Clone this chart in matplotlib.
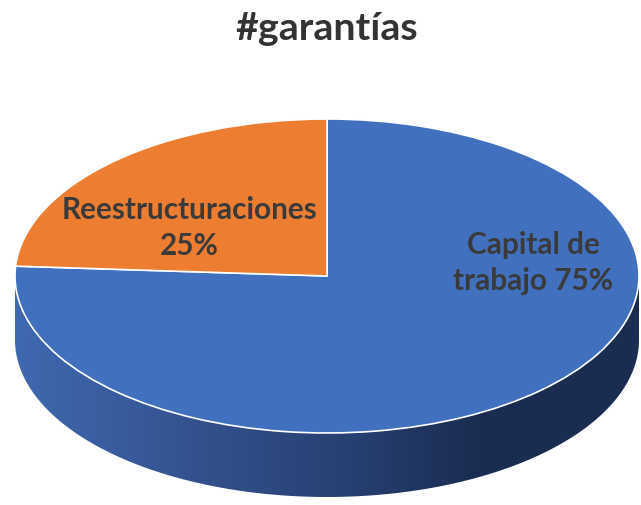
import numpy as np
import matplotlib
matplotlib.use("Agg")
import matplotlib.pyplot as plt
from matplotlib.colors import LinearSegmentedColormap
from matplotlib.patches import PathPatch
from matplotlib.path import Path

plt.rcParams['font.family'] = ['Lato', 'DejaVu Sans']

title = "#garantías"
labels = ["Capital de\ntrabajo 75%", "Reestructuraciones\n25%"]
values = [75, 25]
colors = ["#4170BF", "#ED7D31"]
side_stops = [(0, "#3F69B0"), (0.28, "#34528F"), (0.55, "#263F70"), (0.75, "#1A2C50"), (1, "#1A2C50")]

W, H = 641, 505
cx, cy = 327, 276
rx, ry = 312, 157
depth = 64 / ry

fig = plt.figure(figsize=(W / 100, H / 100), dpi=100)
ax = fig.add_axes([0, 0, 1, 1])

wedges, _ = ax.pie(values, colors=colors, startangle=90, counterclock=False,
                   radius=1, wedgeprops=dict(edgecolor="white", linewidth=1.2, zorder=3))
# la perspectiva inclina un poco el borde izquierdo
wedges[0].set_theta1(-183.6)
wedges[1].set_theta2(176.4)

ax.axis("off")

# costado del cilindro
t = np.linspace(np.pi, 2 * np.pi, 200)
xs = np.concatenate([np.cos(t), np.cos(t[::-1])])
ys = np.concatenate([np.sin(t) - depth, np.sin(t[::-1])])
side = PathPatch(Path(np.column_stack([xs, ys])), facecolor="none", edgecolor="none")
ax.add_patch(side)
cmap = LinearSegmentedColormap.from_list("lado", side_stops)
img = ax.imshow(np.linspace(0, 1, 256)[None, :], extent=(-1, 1, -1.5, 0.2), cmap=cmap,
                aspect="auto", zorder=1)
img.set_clip_path(side)
ax.set_aspect("auto")
ax.set_xlim(-cx / rx, (W - cx) / rx)
ax.set_ylim((cy - H) / ry, cy / ry)


def px(x, y):
    return (x - cx) / rx, (cy - y) / ry


ax.text(*px(327, 29), title, ha="center", va="center", fontsize=28.4, fontweight="bold",
        color="#333333", zorder=5)
ax.text(*px(533, 263), labels[0], ha="center", va="center", fontsize=21.4, fontweight="bold",
        color="#3A3A3A", linespacing=1.38, zorder=5)
ax.text(*px(189, 228), labels[1], ha="center", va="center", fontsize=21.4, fontweight="bold",
        color="#3A3A3A", linespacing=1.34, zorder=5)

fig.savefig("out.png", dpi=100, facecolor="white")
